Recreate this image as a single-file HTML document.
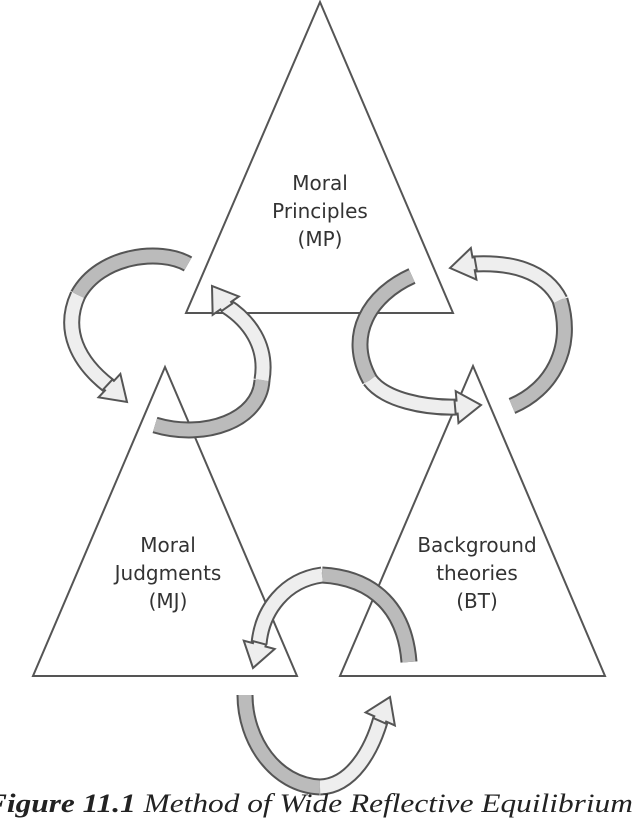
<!DOCTYPE html>
<html><head><meta charset="utf-8"><style>
html,body{margin:0;padding:0;background:#fff;width:640px;height:820px;overflow:hidden}
svg{display:block}
.tri{fill:#fff;stroke:#555;stroke-width:2}
.lbl{font-family:"DejaVu Sans","Liberation Sans",sans-serif;font-size:20px;fill:#333;text-anchor:middle}
.o{fill:none;stroke:#555;stroke-width:17}
.d{fill:none;stroke:#bbb;stroke-width:13}
.l{fill:none;stroke:#eee;stroke-width:13}
.h{fill:#eee;stroke:#555;stroke-width:2;stroke-linejoin:miter}
</style></head><body>
<svg width="640" height="820" viewBox="0 0 640 820">
<defs>
<polygon id="ah" class="h" points="0,0 -24,-16 -24,-6.5 -26,-6.5 -26,6.5 -24,6.5 -24,16"/>
</defs>
<polygon class="tri" points="320,2 453,313 186,313"/>
<polygon class="tri" points="165,367 297,676 33,676"/>
<polygon class="tri" points="473,366 605,676 340,676"/>
<text class="lbl" x="320" y="190">Moral</text>
<text class="lbl" x="320" y="218">Principles</text>
<text class="lbl" x="320" y="246">(MP)</text>
<text class="lbl" x="168" y="552">Moral</text>
<text class="lbl" x="168" y="580">Judgments</text>
<text class="lbl" x="168" y="608">(MJ)</text>
<text class="lbl" x="477" y="552">Background</text>
<text class="lbl" x="477" y="580">theories</text>
<text class="lbl" x="477" y="608">(BT)</text>

<!-- left pair -->
<path class="o" d="M188,264 C160,248 100,255 78,295"/>
<path class="d" d="M188,264 C160,248 100,255 78,295"/>
<path class="o" d="M78,295 C62,330 78,362 109,386"/>
<path class="l" d="M78,295 C62,330 78,362 109,386"/>
<use href="#ah" transform="translate(127,402) rotate(43)"/>
<path class="o" d="M155,425 C205,440 260,420 262,380"/>
<path class="d" d="M155,425 C205,440 260,420 262,380"/>
<path class="o" d="M262,380 C268,345 248,320 226,306"/>
<path class="l" d="M262,380 C268,345 248,320 226,306"/>
<use href="#ah" transform="translate(212,286) rotate(235)"/>

<!-- right pair -->
<path class="o" d="M412,276 C370,295 345,335 370,380"/>
<path class="d" d="M412,276 C370,295 345,335 370,380"/>
<path class="o" d="M370,380 C385,400 425,408 457,407"/>
<path class="l" d="M370,380 C385,400 425,408 457,407"/>
<use href="#ah" transform="translate(481,405) rotate(-5)"/>
<path class="o" d="M512,406 C550,390 575,350 560,300"/>
<path class="d" d="M512,406 C550,390 575,350 560,300"/>
<path class="o" d="M560,300 C545,270 510,262 473,264"/>
<path class="l" d="M560,300 C545,270 510,262 473,264"/>
<use href="#ah" transform="translate(450,268) rotate(170)"/>

<!-- bottom pair -->
<path class="o" d="M409,662 C405,610 375,578 322,575"/>
<path class="d" d="M409,662 C405,610 375,578 322,575"/>
<path class="o" d="M322,575 C285,580 262,610 259,644"/>
<path class="l" d="M322,575 C285,580 262,610 259,644"/>
<use href="#ah" transform="translate(253,668) rotate(105)"/>
<path class="o" d="M245,695 C245,740 275,785 320,787"/>
<path class="d" d="M245,695 C245,740 275,785 320,787"/>
<path class="o" d="M320,787 C352,786 372,750 381,718"/>
<path class="l" d="M320,787 C352,786 372,750 381,718"/>
<use href="#ah" transform="translate(390,697) rotate(-66)"/>

<text x="-14" y="812" style="font-family:'Liberation Serif',serif;font-size:26px;font-style:italic;fill:#222" textLength="740" lengthAdjust="spacingAndGlyphs"><tspan font-weight="bold">Figure 11.1</tspan> Method of Wide Reflective Equilibrium (WRE)</text>
</svg>
</body></html>
